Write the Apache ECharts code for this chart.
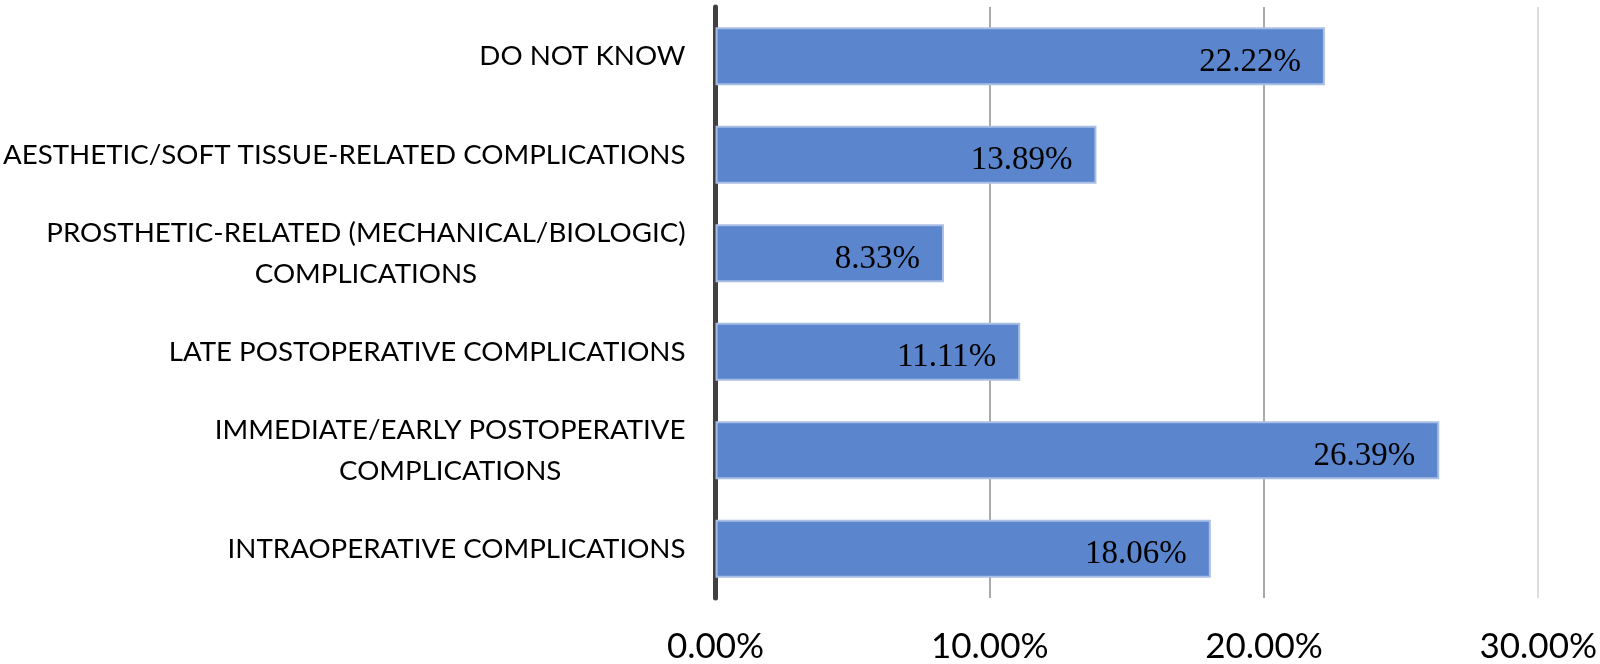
<!DOCTYPE html>
<html>
<head>
<meta charset="utf-8">
<script src="https://cdn.jsdelivr.net/npm/echarts@6/dist/echarts.min.js"></script>
<style>
  html, body { margin: 0; padding: 0; background: #fff; }
  #chart { width: 1600px; height: 664px; }
</style>
</head>
<body>
<div id="chart"></div>
<script>
// categories listed top to bottom
const categories = [
  "DO NOT KNOW",
  "AESTHETIC/SOFT TISSUE-RELATED COMPLICATIONS",
  "PROSTHETIC-RELATED (MECHANICAL/BIOLOGIC)\nCOMPLICATIONS",
  "LATE POSTOPERATIVE COMPLICATIONS",
  "IMMEDIATE/EARLY POSTOPERATIVE\nCOMPLICATIONS",
  "INTRAOPERATIVE COMPLICATIONS",
];
const values = [22.22, 13.89, 8.33, 11.11, 26.39, 18.06];
const xTicks = [0, 10, 20, 30];

const chart = echarts.init(document.getElementById("chart"));

const option = {
  animation: false,
  grid: { left: 712, right: 61, top: 7, bottom: 66, containLabel: false },
  xAxis: {
    type: "value",
    min: xTicks[0],
    max: xTicks[xTicks.length - 1],
    interval: 10,
    axisLine: { show: false },
    axisTick: { show: false },
    axisLabel: {
      formatter: (v) => v.toFixed(2) + "%",
      color: "#000",
      fontFamily: "Lato, sans-serif",
      fontSize: 35,
      margin: 31,
    },
    splitLine: {
      show: true,
      lineStyle: { color: ["#aaaaaa", "#aaaaaa", "#aaaaaa", "#dcdcdc"], width: 2 },
    },
  },
  yAxis: {
    type: "category",
    data: categories,
    inverse: true,
    axisLine: { show: true, lineStyle: { color: "#404040", width: 5 } },
    axisTick: { show: false },
    axisLabel: {
      margin: 30,
      formatter: (v) => v.split("\n").map((s) => "{c|" + s + "}").join("\n"),
      rich: {
        c: {
          align: "center",
          color: "#000",
          fontFamily: "Lato, sans-serif",
          fontSize: 27.7,
          lineHeight: 41,
        },
      },
    },
  },
  series: [
    {
      type: "bar",
      data: values,
      barWidth: 58,
      itemStyle: { color: "#5b85cc", borderColor: "#a9bee5", borderWidth: 2 },
      label: {
        show: true,
        position: "insideRight",
        distance: 24,
        offset: [0, 6],
        formatter: (p) => p.value.toFixed(2) + "%",
        color: "#000",
        fontFamily: "'Liberation Serif', 'Times New Roman', serif",
        fontSize: 33,
      },
    },
  ],
};

chart.setOption(option);
</script>
</body>
</html>
